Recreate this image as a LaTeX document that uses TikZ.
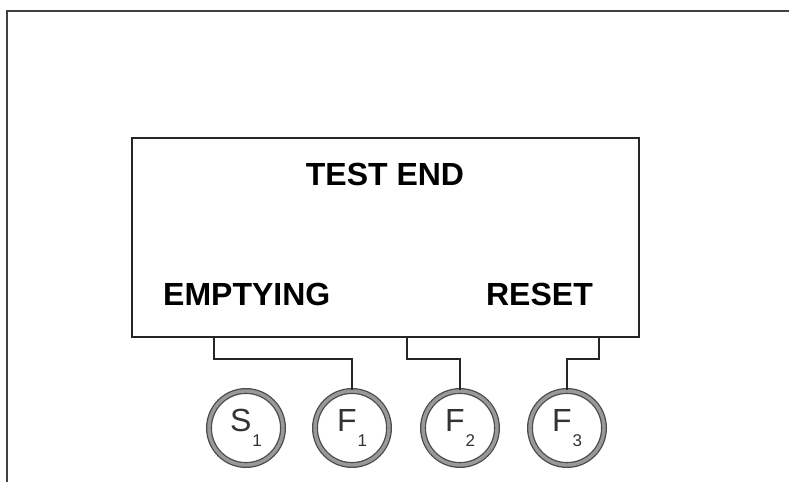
\documentclass[tikz,border=0pt]{standalone}
\usepackage{fontspec}
\setmainfont{Liberation Sans}
\begin{document}
\begin{tikzpicture}[x=1pt,y=-1pt,
  frameline/.style={line width=2pt,draw=black!75},
  panel/.style={draw=black!85,line width=2pt,rectangle,minimum width=507pt,minimum height=199pt,inner sep=0pt},
  paneltext/.style={font=\fontsize{32}{32}\selectfont\bfseries,inner sep=0pt,text=black},
  wire/.style={line width=1.8pt,draw=black!85},
  keybtn/.style={circle,minimum size=74pt,inner sep=0pt,draw=black!70,line width=1.3pt,double=black!40,double distance=3.4pt,font=\fontsize{32}{32}\selectfont,text=black!80}]
\useasboundingbox (0,0) rectangle (789,482);
\draw[frameline] (7,482) -- (7,11) -- (789,11);
\node[panel] (box) at (385.5,237.5) {};
\node[paneltext,anchor=base] (title) at (385,185) {TEST END};
\node[paneltext,anchor=base west] (empt) at (163,305) {EMPTYING};
\node[paneltext,anchor=base east] (reset) at (593,305) {RESET};
\newcommand{\keysub}[2]{#1\kern1pt\raisebox{-15pt}{\fontsize{17}{17}\selectfont #2}}
\node[keybtn] (s1) at (246,428) {\keysub{S}{1}};
\node[keybtn] (f1) at (352,428) {\keysub{F}{1}};
\node[keybtn] (f2) at (460,428) {\keysub{F}{2}};
\node[keybtn] (f3) at (567,428) {\keysub{F}{3}};
\coordinate (p1) at (214,337);
\coordinate (p2) at (407,337);
\coordinate (p3) at (599,337);
\draw[wire] (p1) -- ++(0,22) -| (f1.north);
\draw[wire] (p2) -- ++(0,22) -| (f2.north);
\draw[wire] (p3) -- ++(0,22) -| (f3.north);
\end{tikzpicture}
\end{document}
